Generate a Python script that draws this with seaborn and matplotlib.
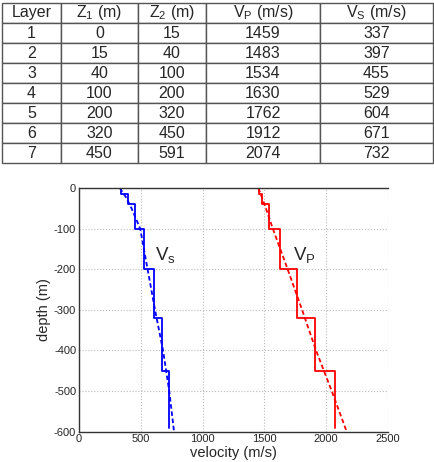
import numpy as np
import seaborn as sns
import matplotlib
matplotlib.use('Agg')
import matplotlib.pyplot as plt

# layer table
layer = [1, 2, 3, 4, 5, 6, 7]
z1 = [0, 15, 40, 100, 200, 320, 450]
z2 = [15, 40, 100, 200, 320, 450, 591]
vp = [1459, 1483, 1534, 1630, 1762, 1912, 2074]
vs = [337, 397, 455, 529, 604, 671, 732]

# fitted profiles (dashed)
fit_z = [0, 25, 50, 100, 200, 300, 400, 500, 600]
fit_vs = [330, 385, 425, 495, 555, 615, 680, 730, 769]
fit_vp = [1451, 1482, 1512, 1568, 1688, 1805, 1918, 2045, 2166]

sns.set_style('white')
plt.rcParams['font.family'] = ['Liberation Sans', 'DejaVu Sans']
plt.rcParams['mathtext.default'] = 'regular'
plt.rcParams['axes.unicode_minus'] = False

fig = plt.figure(figsize=(4.35, 4.62), dpi=100)

# ---- table ----
tax = fig.add_axes([2/435, (462-163)/462, 431/435, 160/462])
tax.axis('off')
header = ['Layer', 'Z$_1$ (m)', 'Z$_2$ (m)', 'V$_P$ (m/s)', 'V$_S$ (m/s)']
rows = [[str(a), str(b), str(c), str(d), str(e)] for a, b, c, d, e in zip(layer, z1, z2, vp, vs)]
tbl = tax.table(cellText=[header] + rows, cellLoc='center', bbox=[0, 0, 1, 1],
                colWidths=[59, 77, 68, 114, 113])
tbl.auto_set_font_size(False)
for (r, c), cell in tbl.get_celld().items():
    cell.set_edgecolor('#555555')
    cell.set_linewidth(1.0)
    cell.get_text().set_fontsize(11.5)

# ---- profile plot ----
ax = fig.add_axes([79/435, (462-431.7)/462, 309/435, 243.7/462])


def step_xy(v):
    xs, ys = [], []
    for a, b, val in zip(z1, z2, v):
        xs += [val, val]
        ys += [-a, -b]
    return xs, ys


sx, sy = step_xy(vs)
px, py = step_xy(vp)
sns.lineplot(x=sx, y=sy, sort=False, estimator=None, color='b', lw=1.3, ax=ax)
sns.lineplot(x=px, y=py, sort=False, estimator=None, color='r', lw=1.3, ax=ax)
sns.lineplot(x=fit_vs, y=[-z for z in fit_z], sort=False, estimator=None,
             color='b', lw=1.3, ls=(0, (2.5, 1.5)), ax=ax)
sns.lineplot(x=fit_vp, y=[-z for z in fit_z], sort=False, estimator=None,
             color='r', lw=1.3, ls=(0, (2.5, 1.5)), ax=ax)

ax.text(615, -165, 'V$_{s}$', fontsize=13.5, va='center')
ax.text(1730, -165, 'V$_{P}$', fontsize=13.5, va='center')

ax.set_xlim(0, 2500)
ax.set_ylim(-600, 0)
ax.set_xticks(np.arange(0, 2501, 500))
ax.set_yticks(np.arange(-600, 1, 100))
ax.tick_params(direction='in', length=3, labelsize=8, pad=2)
ax.grid(True, ls=':', color='#bbbbbb', lw=0.8)
for s in ['left', 'top', 'bottom']:
    ax.spines[s].set_color('#333333')
    ax.spines[s].set_linewidth(1.0)
ax.spines['right'].set_visible(False)
ax.axvline(2500, ls=':', color='#bbbbbb', lw=0.8)
ax.set_xlabel('velocity (m/s)', fontsize=10.5, labelpad=1)
ax.set_ylabel('depth (m)', fontsize=10.5, labelpad=2)

fig.savefig('out.png', dpi=100)
